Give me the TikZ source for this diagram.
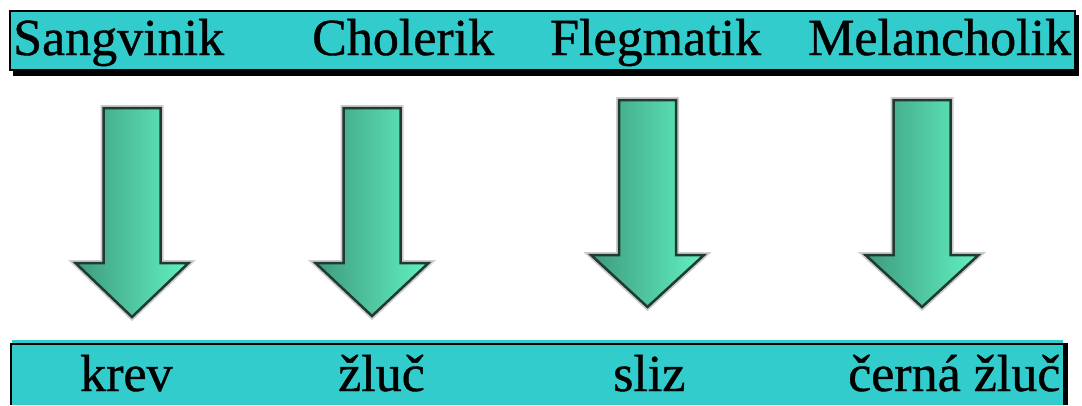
\documentclass[tikz,border=0pt]{standalone}
\usepackage{fontspec}
\setmainfont{Liberation Serif}
\newfontface\humfont{Liberation Serif}[FakeBold=0.8]
\definecolor{barcyan}{HTML}{33CCCC}
\definecolor{arrowdark}{HTML}{3E9A7E}
\definecolor{arrowlight}{HTML}{62F2C2}
\definecolor{arrowline}{HTML}{1F3A32}
\tikzset{
  wordtext/.style={anchor=base west, inner sep=0pt, font=\humfont\fontsize{52}{60}\selectfont},
  downarrow/.style={left color=arrowdark, right color=arrowlight, draw=arrowline, line width=2.5pt, line join=miter},
  arrowglow/.style={draw=gray!40, line width=6pt, line join=miter}
}

\begin{document}
\begin{tikzpicture}[x=1pt,y=-1pt]
\useasboundingbox (0,0) rectangle (1082,405);

% upper bar
\fill (13,15) rectangle (1079,76);
\fill[barcyan] (10,11) rectangle (1075,70);
\draw[line width=2pt] (10,11) rectangle (1075,70);
\begin{scope}
\clip (10,11) rectangle (1075,70);
\node[wordtext] (sangvinik) at (13,55) {Sangvinik};
\node[wordtext] (cholerik) at (312,55) {Cholerik};
\node[wordtext] (flegmatik) at (550,55) {Flegmatik};
\node[wordtext] (melancholik) at (808,55) {Melancholik};
\end{scope}

% arrows
\foreach \cx/\top/\base/\tip in {132/108/263/317, 372/108/263/316, 647.5/100/255/307, 922/100/255/307}
{
  \draw[arrowglow] ({\cx-28.5},\top) -- ({\cx+28.5},\top) -- ({\cx+28.5},\base) -- ({\cx+56.5},\base) -- (\cx,\tip) -- ({\cx-56.5},\base) -- ({\cx-28.5},\base) -- cycle;
  \draw[downarrow] ({\cx-28.5},\top) -- ({\cx+28.5},\top) -- ({\cx+28.5},\base) -- ({\cx+56.5},\base) -- (\cx,\tip) -- ({\cx-56.5},\base) -- ({\cx-28.5},\base) -- cycle;
}

% lower bar
\fill[barcyan] (12,340) rectangle (1063,405);
\draw[line width=2pt] (11,405) -- (11,344) -- (1068,344);
\fill (1063,344) rectangle (1068,405);
\node[wordtext] (krev) at (80,391) {krev};
\node[wordtext] (zluc) at (338,391) {žluč};
\node[wordtext] (sliz) at (613,391) {sliz};
\node[wordtext] (cernazluc) at (848,391) {černá žluč};
\end{tikzpicture}
\end{document}
